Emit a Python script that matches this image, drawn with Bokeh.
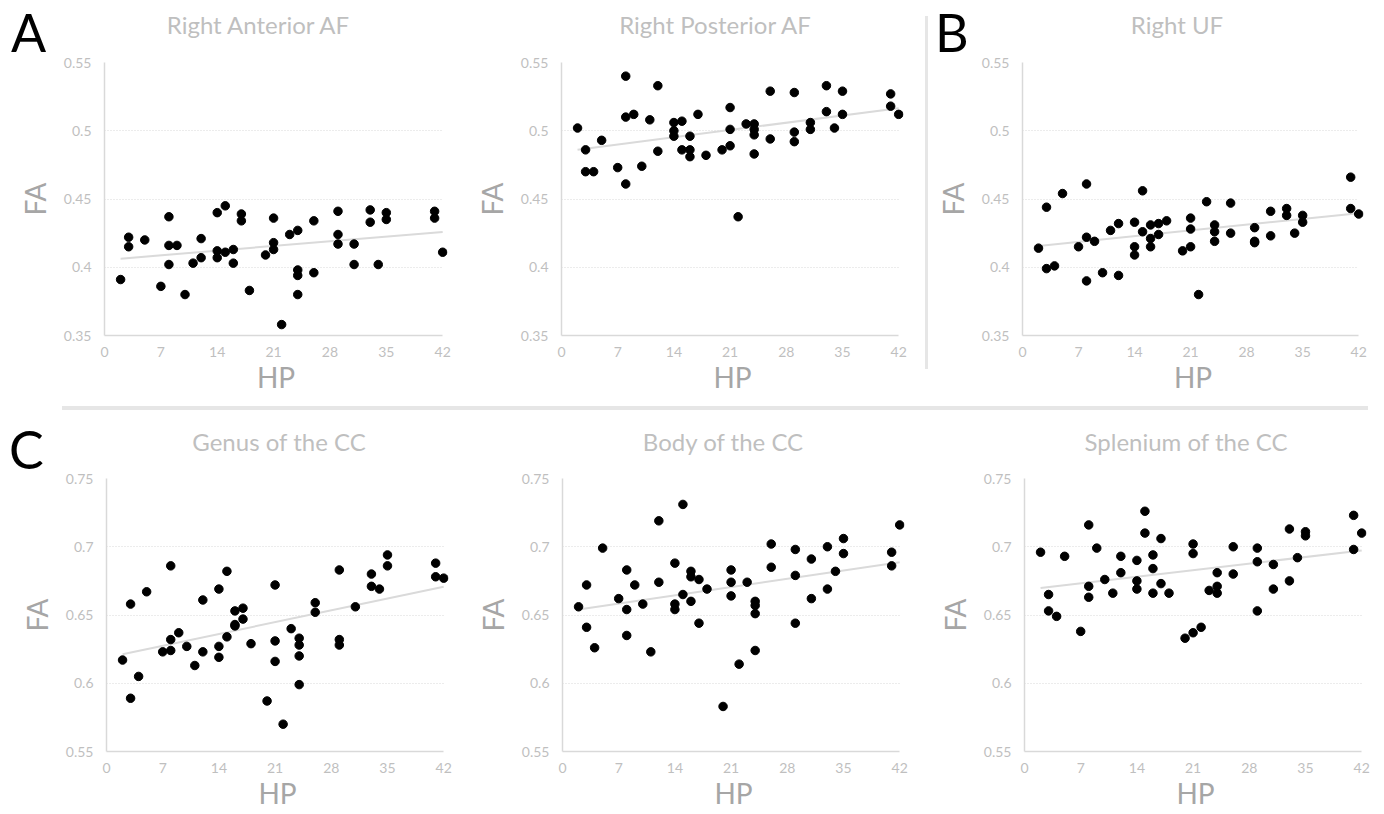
import numpy as np
from bokeh.plotting import figure
from bokeh.models import FixedTicker, CustomJSTickFormatter, Div, Grid, Range1d, Spacer
from bokeh.layouts import row, column
from bokeh.embed import file_html
from bokeh.resources import INLINE

FONT = "Lato"

# ---------------- data ----------------
hp_raaf = [2,3,3,5,7,8,8,8,9,10,11,12,12,14,14,14,15,15,16,16,17,17,18,20,21,21,21,22,23,24,24,24,24,26,26,29,29,29,31,31,33,33,34,35,35,41,41,42]
fa_raaf = [.391,.422,.415,.420,.386,.437,.416,.402,.416,.380,.403,.421,.407,.440,.412,.407,.445,.411,.413,.403,.439,.434,.383,.409,.436,.418,.413,.358,.424,.427,.398,.394,.380,.434,.396,.441,.424,.417,.417,.402,.442,.433,.402,.440,.435,.441,.436,.411]

hp_rpaf = [2,3,3,4,5,7,8,8,8,9,10,11,12,12,14,14,14,15,15,16,16,16,17,18,20,21,21,21,22,23,24,24,24,24,26,26,29,29,29,31,31,33,33,34,35,35,41,41,42]
fa_rpaf = [.502,.486,.470,.470,.493,.473,.540,.510,.461,.512,.474,.508,.533,.485,.506,.500,.496,.507,.486,.496,.486,.481,.512,.482,.486,.517,.501,.489,.437,.505,.505,.501,.497,.483,.529,.494,.528,.499,.492,.506,.501,.533,.514,.502,.529,.512,.527,.518,.512]

hp_ruf = [2,3,3,4,5,7,8,8,8,9,10,11,12,12,14,14,14,15,15,16,16,16,17,17,18,20,21,21,21,22,23,24,24,24,26,26,29,29,29,31,31,33,33,34,35,35,41,41,42]
fa_ruf = [.414,.444,.399,.401,.454,.415,.461,.422,.390,.419,.396,.427,.432,.394,.433,.415,.409,.456,.426,.431,.421,.415,.432,.424,.434,.412,.436,.428,.415,.380,.448,.431,.426,.419,.447,.425,.429,.419,.418,.441,.423,.443,.438,.425,.438,.433,.466,.443,.439]

hp_genu = [2,3,3,4,5,7,8,8,8,9,10,11,12,12,14,14,14,15,15,16,16,16,17,17,18,20,21,21,21,22,23,24,24,24,24,26,26,29,29,29,31,33,33,34,35,35,41,41,42]
fa_genu = [.617,.658,.589,.605,.667,.623,.686,.632,.624,.637,.627,.613,.661,.623,.669,.627,.619,.682,.634,.653,.643,.642,.655,.647,.629,.587,.672,.631,.616,.570,.640,.633,.628,.620,.599,.659,.652,.683,.632,.628,.656,.680,.671,.669,.694,.686,.688,.678,.677]

hp_body = [2,3,3,4,5,7,8,8,8,9,10,11,12,12,14,14,14,15,15,16,16,16,17,17,18,20,21,21,21,22,23,24,24,24,24,26,26,29,29,29,31,31,33,33,34,35,35,41,41,42]
fa_body = [.656,.672,.641,.626,.699,.662,.683,.654,.635,.672,.658,.623,.719,.674,.688,.658,.654,.731,.665,.682,.678,.660,.676,.644,.669,.583,.683,.674,.664,.614,.674,.660,.657,.651,.624,.702,.685,.698,.679,.644,.691,.662,.700,.669,.682,.706,.695,.696,.686,.716]

hp_splen = [2,3,3,4,5,7,8,8,8,9,10,11,12,12,14,14,14,15,15,16,16,16,17,17,18,20,21,21,21,22,23,24,24,24,26,26,29,29,29,31,31,33,33,34,35,35,41,41,42]
fa_splen = [.696,.665,.653,.649,.693,.638,.716,.671,.663,.699,.676,.666,.693,.681,.690,.675,.669,.726,.710,.694,.684,.666,.706,.673,.666,.633,.702,.695,.637,.641,.668,.681,.671,.666,.700,.680,.699,.689,.653,.687,.669,.713,.675,.692,.711,.708,.723,.698,.710]

x_ticks = [0, 7, 14, 21, 28, 35, 42]
y_ticks_top = [0.35, 0.40, 0.45, 0.50, 0.55]
y_ticks_bottom = [0.55, 0.60, 0.65, 0.70, 0.75]

titles_top = ["Right Anterior AF", "Right Posterior AF", "Right UF"]
titles_bottom = ["Genus of the CC", "Body of the CC", "Splenium of the CC"]
letters = ["A", "B", "C"]
x_label = "HP"
y_label = "FA"

GRID = "#d9d9d9"
TICK = "#bfbfbf"
TITLE = "#bfbfbf"
ALAB = "#a6a6a6"
SEP = "#e6e6e6"


def panel(hp, fa, yticks, width, height, left, right, top, bottom):
    p = figure(width=width, height=height, output_backend="svg", toolbar_location=None,
               x_range=Range1d(0, 42.6), y_range=Range1d(yticks[0], yticks[-1]),
               min_border_left=left, min_border_right=right,
               min_border_top=top, min_border_bottom=bottom,
               background_fill_color="white", border_fill_color="white")
    p.outline_line_color = None
    xt = FixedTicker(ticks=x_ticks)
    yt = FixedTicker(ticks=yticks)
    p.xaxis.ticker = xt
    p.yaxis.ticker = yt
    p.ygrid.ticker = yt
    p.xgrid.visible = False
    p.ygrid.grid_line_color = GRID
    p.ygrid.grid_line_dash = "1 2"
    p.ygrid.grid_line_width = 1
    if "cross_bounds" in Grid.properties():
        p.ygrid.cross_bounds = (0, 42)
    p.xaxis.bounds = (0, 42)
    p.yaxis.formatter = CustomJSTickFormatter(code="return String(Math.round(tick*100)/100);")
    for ax in (p.xaxis, p.yaxis):
        ax.axis_line_color = GRID
        ax.axis_line_width = 1.5
        ax.major_tick_line_color = None
        ax.minor_tick_line_color = None
        ax.major_tick_out = 0
        ax.major_tick_in = 0
        ax.major_label_text_color = TICK
        ax.major_label_text_font = FONT
        ax.major_label_text_font_size = "14px"
        ax.axis_label_text_font = FONT
        ax.axis_label_text_font_size = "28px"
        ax.axis_label_text_font_style = "normal"
        ax.axis_label_text_color = ALAB
    p.xaxis.major_label_standoff = 11
    p.yaxis.major_label_standoff = 13
    p.xaxis.axis_label = x_label
    p.yaxis.axis_label = y_label
    p.xaxis.axis_label_standoff = 0
    p.yaxis.axis_label_standoff = 9

    # trend line (least squares)
    k, b = np.polyfit(hp, fa, 1)
    xs = [min(hp), max(hp)]
    p.line(xs, [k * x + b for x in xs], line_color="#dadada", line_width=2)
    p.scatter(hp, fa, size=8.5, color="black")
    return p


def tdiv(text, width, height, size, color, pad_top, lh, align="center", pad_left=0):
    html = ('<div style="width:%dpx;font-family:Lato;font-size:%dpx;line-height:%dpx;'
            'padding-top:%dpx;padding-left:%dpx;text-align:%s;color:%s;white-space:nowrap;">%s</div>'
            % (width - pad_left, size, lh, pad_top, pad_left, align, color, text))
    return Div(text=html, width=width, height=height, margin=(0, 0, 0, 0), sizing_mode="fixed")


def sep(width, height, top=0):
    return Div(text="", width=width, height=height, margin=(top, 0, 0, 0), sizing_mode="fixed",
               styles={"background-color": SEP})


# header row (top): letters and titles
H0 = 46
head_top = row(
    tdiv(letters[0], 100, H0, 52, "black", 0, 48, align="left", pad_left=3),
    tdiv(titles_top[0], 300, H0, 24, TITLE, 5, 24),
    Spacer(width=157, height=H0),
    tdiv(titles_top[1], 300, H0, 24, TITLE, 5, 24),
    Spacer(width=60, height=H0),
    sep(3, 38, top=8),
    Spacer(width=7, height=H0),
    tdiv(letters[1], 92, H0, 52, "black", 0, 48, align="left"),
    tdiv(titles_top[2], 300, H0, 24, TITLE, 5, 24),
    spacing=0)

TH = 346
f1 = panel(hp_raaf, fa_raaf, y_ticks_top, 457, TH, 96, 18, 8, 65)
f2 = panel(hp_rpaf, fa_rpaf, y_ticks_top, 460, TH, 96, 22, 8, 65)
f3 = panel(hp_ruf, fa_ruf, y_ticks_top, 448, TH, 94, 13, 8, 65)
figs_top = row(f1, f2, sep(3, 315), f3, spacing=0)

hline = Div(text="", width=1306, height=4, margin=(6, 0, 2, 54), sizing_mode="fixed",
            styles={"background-color": SEP})

H1 = 57
head_bot = row(
    tdiv(letters[2], 108, H1, 52, "black", 13, 48, align="left", pad_left=1),
    Spacer(width=13, height=H1),
    tdiv(titles_bottom[0], 300, H1, 24, TITLE, 18, 24),
    Spacer(width=144, height=H1),
    tdiv(titles_bottom[1], 300, H1, 24, TITLE, 18, 24),
    Spacer(width=163, height=H1),
    tdiv(titles_bottom[2], 300, H1, 24, TITLE, 18, 24),
    spacing=0)

BH = 344
f4 = panel(hp_genu, fa_genu, y_ticks_bottom, 458, BH, 98, 18, 9, 62)
f5 = panel(hp_body, fa_body, y_ticks_bottom, 462, BH, 96, 24, 9, 62)
f6 = panel(hp_splen, fa_splen, y_ticks_bottom, 448, BH, 96, 10, 9, 62)
figs_bot = row(f4, f5, f6, spacing=0)

layout = column(head_top, figs_top, hline, head_bot, figs_bot, spacing=0, margin=(8, 0, 0, 8))

open("out.html", "w").write(file_html(layout, INLINE, title="FA vs HP"))
